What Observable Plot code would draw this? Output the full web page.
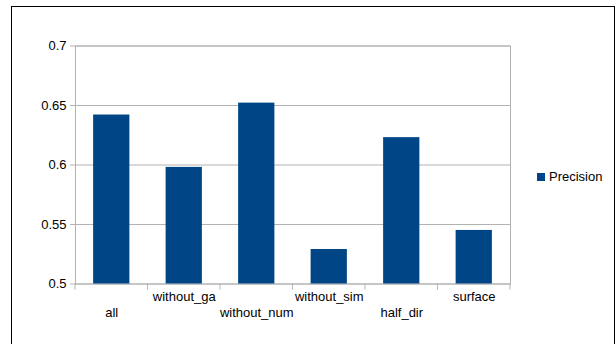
<!DOCTYPE html>
<html>
<head>
<meta charset="utf-8">
<script src="https://cdn.jsdelivr.net/npm/d3@7"></script>
<script src="https://cdn.jsdelivr.net/npm/@observablehq/plot@0.6"></script>
<style>
  body { margin: 0; background: #fff; }
  #wrap { position: relative; width: 616px; height: 344px; overflow: hidden;
          font-family: "Liberation Sans", Arial, sans-serif; }
  #wrap svg { position: absolute; left: 0; top: 0; }
  #border { position: absolute; left: 11px; top: 6px; width: 604px; height: 420px;
            border: 1.5px solid #000; box-sizing: border-box; }
  #legend { position: absolute; left: 537px; top: 169px; font-size: 13px; color: #000;
            display: flex; align-items: center; line-height: 16px; }
  #legend .swatch { width: 8px; height: 8px; background: #004586; margin-right: 4px; }
</style>
</head>
<body>
<div id="wrap">
  <div id="border"></div>
  <div id="legend"><span class="swatch"></span><span>Precision</span></div>
</div>
<script>
// Precision of each feature configuration
const categories = ["all", "without_ga", "without_num", "without_sim", "half_dir", "surface"];
const precision = [0.642, 0.598, 0.652, 0.529, 0.623, 0.545];
const yTicks = [0.5, 0.55, 0.6, 0.65, 0.7];
const yBase = 0.5;
const barColor = "#004586";
const lineColor = "#b3b3b3";

const data = categories.map((name, i) => ({name, value: precision[i], row: i % 2}));

// Small ticks below the category axis, at the boundaries between categories
function boundaryTicks(index, scales, values, dims) {
  const x = scales.x;
  const bw = typeof x.bandwidth === "function" ? x.bandwidth() : x.bandwidth;
  const step = x(categories[1]) - x(categories[0]);
  const half = (step - bw) / 2;
  const xs = categories.map(c => x(c) - half);
  xs.push(x(categories[categories.length - 1]) + bw + half);
  const y0 = dims.height - dims.marginBottom;
  const g = d3.create("svg:g");
  g.selectAll("line").data(xs).join("line")
    .attr("x1", d => d).attr("x2", d => d)
    .attr("y1", y0).attr("y2", y0 + 6)
    .attr("stroke", lineColor);
  return g.node();
}

const chart = Plot.plot({
  width: 616,
  height: 344,
  marginLeft: 75,
  marginRight: 106,
  marginTop: 45.5,
  marginBottom: 60.5,
  style: {fontSize: "13px", fontFamily: "'Liberation Sans', Arial, sans-serif", background: "transparent"},
  x: {domain: categories, paddingInner: 0.5, paddingOuter: 0.25, round: false, axis: null},
  y: {domain: [0.5, 0.7], axis: null},
  marks: [
    Plot.gridY(yTicks, {stroke: lineColor, strokeOpacity: 1}),
    Plot.frame({stroke: lineColor}),
    Plot.barY(data, {x: "name", y1: yBase, y2: "value", fill: barColor}),
    Plot.axisY(yTicks, {
      tickSize: 5, tickPadding: 4, stroke: lineColor, fill: "#000",
      tickFormat: d => String(+d.toFixed(2)), label: null
    }),
    boundaryTicks,
    Plot.text(data.filter(d => d.row === 0), {
      x: "name", text: "name", frameAnchor: "bottom", dy: 33, fill: "#000"
    }),
    Plot.text(data.filter(d => d.row === 1), {
      x: "name", text: "name", frameAnchor: "bottom", dy: 17, fill: "#000"
    })
  ]
});

document.getElementById("wrap").prepend(chart);
</script>
</body>
</html>
